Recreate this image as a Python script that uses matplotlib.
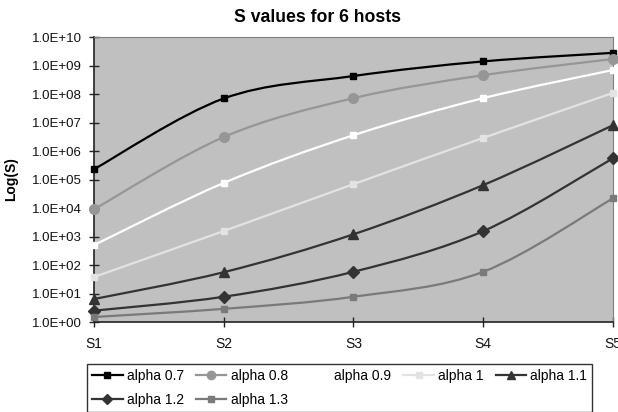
import matplotlib
matplotlib.use('Agg')
import matplotlib.pyplot as plt
import numpy as np
from matplotlib.path import Path
from matplotlib.patches import PathPatch
from matplotlib.lines import Line2D
from matplotlib.ticker import FuncFormatter

plt.rcParams['font.family'] = ['Liberation Sans', 'DejaVu Sans']

# данные
stages = ['S1', 'S2', 'S3', 'S4', 'S5']
labels = ['alpha 0.7', 'alpha 0.8', 'alpha 0.9', 'alpha 1',
          'alpha 1.1', 'alpha 1.2', 'alpha 1.3']
s_07 = [2.3e5, 7.0e7, 4.3e8, 1.4e9, 2.8e9]
s_08 = [9.0e3, 3.1e6, 7.2e7, 4.6e8, 1.7e9]
s_09 = [5.0e2, 7.6e4, 3.6e6, 7.2e7, 7.0e8]
s_10 = [3.8e1, 1.56e3, 6.9e4, 2.9e6, 1.1e8]
s_11 = [6.4, 5.6e1, 1.2e3, 6.4e4, 8.1e6]
s_12 = [2.5, 7.7, 5.8e1, 1.55e3, 5.6e5]
s_13 = [1.5, 2.9, 7.7, 5.8e1, 2.2e4]
series = [s_07, s_08, s_09, s_10, s_11, s_12, s_13]

colors = ['#000000', '#969696', '#ffffff', '#e3e3e3', '#333333', '#333333', '#7a7a7a']
markers = ['s', 'o', 's', 's', '^', 'D', 's']
msizes = [5, 7, 4, 5, 7, 6, 5]


def smooth_path(x, y):
    """Кривая Безье через точки (как сглаженные линии Excel), в лог-пространстве"""
    x = np.asarray(x, dtype=float)
    ly = np.log10(np.asarray(y, dtype=float))
    pts = np.column_stack([x, ly])
    verts = [pts[0]]
    codes = [Path.MOVETO]
    n = len(pts)
    for i in range(n - 1):
        p0 = pts[i - 1] if i > 0 else pts[i]
        p1 = pts[i]
        p2 = pts[i + 1]
        p3 = pts[i + 2] if i + 2 < n else pts[i + 1]
        c1 = p1 + (p2 - p0) / 6.0
        c2 = p2 - (p3 - p1) / 6.0
        verts += [c1, c2, p2]
        codes += [Path.CURVE4] * 3
    verts = np.array(verts)
    verts[:, 1] = 10 ** verts[:, 1]
    return Path(verts, codes)


fig = plt.figure(figsize=(6.18, 4.12), dpi=100)
ax = fig.add_axes([0.152, 0.2184, 0.840, 0.6916])
ax.set_facecolor('#c0c0c0')
ax.set_yscale('log')

xs = np.arange(len(stages))
handles = []
for vals, col, mk, ms, lab in zip(series, colors, markers, msizes, labels):
    patch = PathPatch(smooth_path(xs, vals), facecolor='none', edgecolor=col,
                      linewidth=1.6, transform=ax.transData, zorder=2)
    ax.add_patch(patch)
    ax.plot(xs, vals, linestyle='none', marker=mk, markersize=ms,
            color=col, markeredgecolor=col, zorder=3, clip_on=False)
    handles.append(Line2D([], [], color=col, linewidth=1.6, marker=mk,
                          markersize=ms - 1, markeredgecolor=col, label=lab))

ax.set_xlim(0, 4)
ax.set_ylim(1, 1e10)
ax.set_xticks(xs)
ax.set_xticklabels(stages)
ax.set_yticks([10.0 ** k for k in range(11)])
ax.yaxis.set_minor_locator(plt.NullLocator())
ax.yaxis.set_major_formatter(FuncFormatter(lambda v, p: f'{v:.1E}'))
ax.tick_params(axis='both', direction='inout', length=7, width=1,
               color='#222222', labelsize=9.5, labelcolor='#111111')
ax.tick_params(axis='y', pad=5)
ax.tick_params(axis='x', labelsize=10, pad=7)

for side in ['left', 'bottom']:
    ax.spines[side].set_color('#222222')
    ax.spines[side].set_linewidth(1.2)
for side in ['top', 'right']:
    ax.spines[side].set_color('#808080')
    ax.spines[side].set_linewidth(0.8)

fig.text(0.513, 0.947, 'S values for 6 hosts', fontsize=12.7,
         fontweight='bold', ha='center', va='baseline')
ax.set_ylabel('Log(S)', fontsize=10, fontweight='bold')
ax.yaxis.set_label_coords(-0.147, 0.5)

# Excel заполняет легенду по строкам, matplotlib - по столбцам
order = [0, 5, 1, 6, 2, 3, 4]
leg = fig.legend(handles=[handles[i] for i in order], loc='lower left',
                 ncol=5, mode='expand',
                 bbox_to_anchor=(0.141, 0.0, 0.817, 0.119), fontsize=10,
                 frameon=True, fancybox=False, handlelength=2.2,
                 handletextpad=0.3, columnspacing=0.6, borderpad=0.35,
                 labelspacing=0.75, borderaxespad=0)
leg.get_frame().set_edgecolor('#000000')
leg.get_frame().set_linewidth(1.0)

fig.savefig('out.png', dpi=100)
